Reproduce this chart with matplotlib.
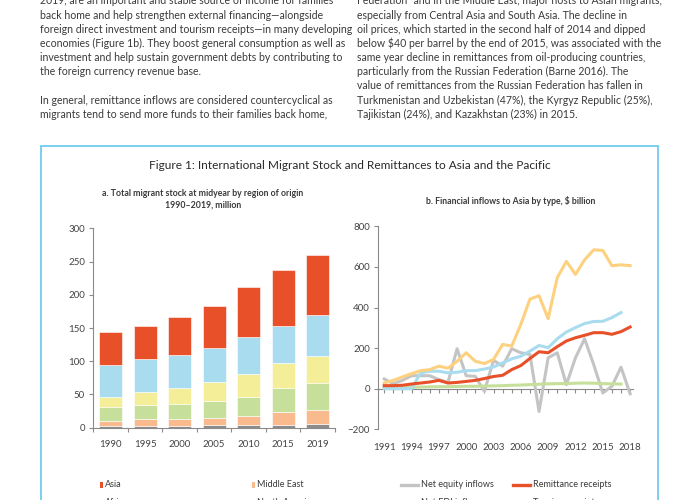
import matplotlib
matplotlib.use('Agg')
import matplotlib.pyplot as plt
from matplotlib.patches import Rectangle
from matplotlib.lines import Line2D

plt.rcParams['font.family'] = ['Lato', 'DejaVu Sans']

# page text around the figure
left_col = [
    "2019, are an important and stable source of income for families",
    "back home and help strengthen external financing\u2014alongside",
    "foreign direct investment and tourism receipts\u2014in many developing",
    "economies (Figure 1b). They boost general consumption as well as",
    "investment and help sustain government debts by contributing to",
    "the foreign currency revenue base.",
    "",
    "In general, remittance inflows are considered countercyclical as",
    "migrants tend to send more funds to their families back home,",
]
right_col = [
    "Federation\u00b3 and in the Middle East, major hosts to Asian migrants,",
    "especially from Central Asia and South Asia. The decline in",
    "oil prices, which started in the second half of 2014 and dipped",
    "below \\$40 per barrel by the end of 2015, was associated with the",
    "same year decline in remittances from oil-producing countries,",
    "particularly from the Russian Federation (Barne 2016). The",
    "value of remittances from the Russian Federation has fallen in",
    "Turkmenistan and Uzbekistan (47%), the Kyrgyz Republic (25%),",
    "Tajikistan (24%), and Kazakhstan (23%) in 2015.",
]

# panel a: migrant stock, million
years_a = ['1990', '1995', '2000', '2005', '2010', '2015', '2019']
north_america = [2.5, 3, 3, 3.5, 4, 4.5, 5]
middle_east = [8, 9.5, 10, 10.5, 13.5, 19, 22]
europe = [21, 22, 22.5, 25.5, 29, 35.5, 40]
africa = [15, 19.5, 24.5, 30, 34.5, 38, 41]
latin_america = [48.5, 49.5, 49.5, 50.5, 55, 56.5, 61]
asia = [48.5, 50, 56.5, 62.5, 76, 84, 91.5]

# panel b: financial inflows, $ billion
years_b = list(range(1991, 2019))
net_equity = [48, 25, 41, 64, 64, 64, 45, 31, 197, 64, 61, -13, 140, 111,
              197, 177, 169, -112, 152, 177, 20, 152, 246, 119, -21, 12, 106, -25]
remittance = [15, 15, 17, 23, 28, 33, 41, 28, 31, 36, 41, 50, 60, 66,
              94, 114, 149, 182, 177, 207, 235, 251, 263, 276, 276, 268, 281, 304]
net_fdi = [0, 0, 0, 0, 78, 86, 86, 78, 81, 89, 89, 97, 107, 127,
           147, 160, 185, 213, 202, 246, 279, 301, 321, 331, 332, 350, 375]
tourism = [28, 41, 58, 74, 89, 94, 111, 101, 135, 177, 135, 124, 144, 218,
           210, 317, 441, 458, 345, 547, 627, 563, 635, 684, 681, 606, 610, 606]
oda = [5, 5, 6, 7, 8, 9, 10, 10, 11, 12, 12, 13, 14, 15,
       17, 18, 20, 22, 24, 25, 25, 27, 28, 27, 25, 24, 23]

W, H = 700, 500
def fx(px):
    return px / W
def fy(py):
    return 1 - py / H

TXT = '#3a3a3a'
AX = '#8a8a8a'
RED = '#e8502a'
BLUE = '#a9dcef'
YEL = '#f4ee99'
GRN = '#c6e09c'
SAL = '#f9bb8d'
GRY = '#8c8c8c'
ORG = '#fdd17f'
LGRY = '#c4c4c4'

fig = plt.figure(figsize=(7, 5), dpi=100)

for i, line in enumerate(left_col):
    fig.text(fx(40), fy(1 + 14.15 * i), line, fontsize=7.6, color=TXT, va='center', ha='left')
for i, line in enumerate(right_col):
    fig.text(fx(357), fy(1 + 14.15 * i), line, fontsize=7.6, color=TXT, va='center', ha='left')

# blue frame round the figure
fig.add_artist(Rectangle((fx(41), fy(560)), fx(658) - fx(41), fy(146) - fy(560),
                         transform=fig.transFigure, fill=False, edgecolor='#6fcbee',
                         lw=1.3, clip_on=False))

fig.text(fx(349.5), fy(165), "Figure 1: International Migrant Stock and Remittances to Asia and the Pacific",
         fontsize=8.6, color='#2a2a2a', ha='center', va='center')
fig.text(fx(203), fy(193), "a. Total migrant stock at midyear by region of origin",
         fontsize=6.3, fontweight='bold', color=TXT, ha='center', va='center')
fig.text(fx(203), fy(205), "1990\u20132019, million",
         fontsize=6.3, fontweight='bold', color=TXT, ha='center', va='center')
fig.text(fx(511), fy(201.5), "b. Financial inflows to Asia by type, \\$ billion",
         fontsize=6.3, fontweight='bold', color=TXT, ha='center', va='center')

# ---- panel a
ax1 = fig.add_axes([fx(93.3), fy(427.7), fx(335) - fx(93.3), fy(228.3) - fy(427.7)])
segs = [(north_america, GRY), (middle_east, SAL), (europe, GRN),
        (africa, YEL), (latin_america, BLUE), (asia, RED)]
x = range(len(years_a))
bottom = [0] * len(years_a)
for vals, col in segs:
    ax1.bar(x, vals, bottom=bottom, width=0.67, color=col, edgecolor='white', lw=0.4)
    bottom = [b + v for b, v in zip(bottom, vals)]
ax1.set_xlim(-0.5, 6.5)
ax1.set_ylim(0, 300)
ax1.set_yticks(range(0, 301, 50))
ax1.set_xticks(list(x))
ax1.set_xticklabels(years_a)
ax1.set_xticks([i - 0.5 for i in range(8)], minor=True)
ax1.tick_params(axis='x', which='major', length=0, pad=9, labelsize=7, labelcolor='#444')
ax1.tick_params(axis='x', which='minor', length=3, color=AX, width=0.8)
ax1.tick_params(axis='y', length=3, color=AX, width=0.8, pad=3, labelsize=7, labelcolor='#444')
for s in ['top', 'right']:
    ax1.spines[s].set_visible(False)
for s in ['left', 'bottom']:
    ax1.spines[s].set_color(AX)
    ax1.spines[s].set_linewidth(0.8)

# ---- panel b
ax2 = fig.add_axes([fx(378.3), fy(429.3), fx(633.3) - fx(378.3), fy(226.3) - fy(429.3)])
ax2.plot(years_b[:len(net_equity)], net_equity, color=LGRY, lw=2.2)
ax2.plot(years_b[:len(oda)], oda, color=GRN, lw=2.2)
ax2.plot(years_b[:len(net_fdi)], net_fdi, color=BLUE, lw=2.2)
ax2.plot(years_b[:len(tourism)], tourism, color=ORG, lw=2.2)
ax2.plot(years_b[:len(remittance)], remittance, color=RED, lw=2.2)
ax2.set_xlim(1990.35, 2018.35)
ax2.set_ylim(-200, 800)
ax2.set_yticks(range(-200, 801, 200))
ax2.set_xticks(years_b[::3])
ax2.tick_params(axis='x', length=0, pad=10, labelsize=7, labelcolor='#444')
ax2.tick_params(axis='y', length=3, color=AX, width=0.8, pad=3, labelsize=7, labelcolor='#444')
for s in ['top', 'right', 'bottom']:
    ax2.spines[s].set_visible(False)
ax2.spines['left'].set_color(AX)
ax2.spines['left'].set_linewidth(0.8)
zero_ax = ax2.secondary_xaxis(0.2)
zero_ax.set_xticks(years_b)
zero_ax.set_xticklabels([])
zero_ax.tick_params(length=3, color=AX, width=0.8)
zero_ax.spines['bottom'].set_color(AX)
zero_ax.spines['bottom'].set_linewidth(0.8)

# ---- keys (two columns each, rows past the page edge are cut off)
keys_a = [('Asia', RED), ('Middle East', SAL), ('Africa', YEL), ('North America', GRY),
          ('Europe', GRN), ('Latin America and the Caribbean', BLUE)]
for i, (lab, col) in enumerate(keys_a):
    r, c = divmod(i, 2)
    x0 = 100 + c * 151.7
    y0 = 484.5 + r * 18
    fig.add_artist(Rectangle((fx(x0), fy(y0 + 3)), fx(3.3), fy(y0 - 3) - fy(y0 + 3),
                             transform=fig.transFigure, color=col, lw=0))
    fig.text(fx(x0 + 5), fy(y0), lab, fontsize=6.5, color=TXT, va='center')

keys_b = [('Net equity inflows', LGRY), ('Remittance receipts', RED),
          ('Net FDI inflows', BLUE), ('Tourism receipts', ORG), ('Net ODA received', GRN)]
for i, (lab, col) in enumerate(keys_b):
    r, c = divmod(i, 2)
    x0 = 401 + c * 112.3
    y0 = 484.5 + r * 18
    fig.add_artist(Line2D([fx(x0), fx(x0 + 17)], [fy(y0), fy(y0)],
                          transform=fig.transFigure, color=col, lw=2.4))
    fig.text(fx(x0 + 20), fy(y0), lab, fontsize=6.5, color=TXT, va='center')

fig.savefig('out.png', dpi=100)
